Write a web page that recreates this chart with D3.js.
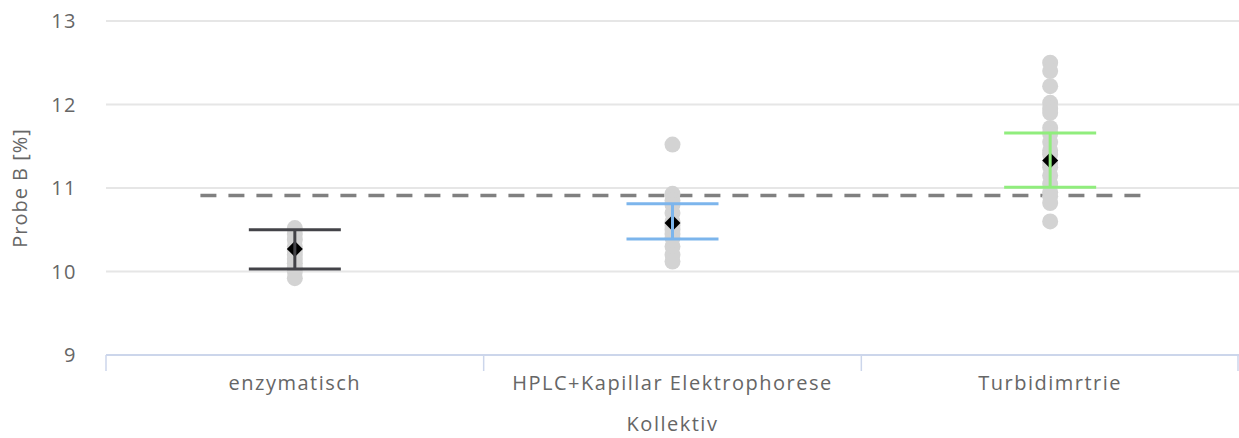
<!DOCTYPE html>
<html>
<head>
<meta charset="utf-8">
<script src="https://cdn.jsdelivr.net/npm/d3@7"></script>
<style>
  body { margin: 0; background: #fff; }
  text { font-family: "Open Sans", sans-serif; fill: #666; font-size: 20px; letter-spacing: 1.5px; }
</style>
</head>
<body>
<svg width="1239" height="438"></svg>
<script>
// categories and values
var categories = ["enzymatisch", "HPLC+Kapillar Elektrophorese", "Turbidimrtrie"];
var colors = ["#434348", "#7cb5ec", "#90ed7d"];

var pointsEnz = [10.52, 10.45, 10.38, 10.3, 10.25, 10.2, 10.15, 10.1, 10.05, 10.0, 9.92];
var pointsHplc = [11.52, 10.93, 10.85, 10.8, 10.7, 10.6, 10.55, 10.5, 10.45, 10.4, 10.3, 10.2, 10.12];
var pointsTurb = [12.5, 12.4, 12.22, 12.02, 11.95, 11.9, 11.72, 11.65, 11.55, 11.45, 11.4, 11.3,
                  11.25, 11.15, 11.05, 10.95, 10.9, 10.82, 10.6];

var means = [10.27, 10.58, 11.33];
var lowErr = [10.03, 10.39, 11.01];
var highErr = [10.5, 10.81, 11.66];
var refValue = 10.91;
var yTicks = [9, 10, 11, 12, 13];

var svg = d3.select("svg");
var plotLeft = 106, plotRight = 1239, plotTop = 21, plotBottom = 355;

var x = d3.scaleBand().domain(categories).range([plotLeft, plotRight]);
var y = d3.scaleLinear().domain([9, 13]).range([plotBottom, plotTop]);
var bw = x.bandwidth();
var cx = function(c) { return x(c) + bw / 2; };

// grid
svg.selectAll("line.grid")
    .data(yTicks.slice(1))
    .enter().append("line")
    .attr("x1", plotLeft).attr("x2", plotRight)
    .attr("y1", function(d) { return y(d); })
    .attr("y2", function(d) { return y(d); })
    .attr("stroke", "#e6e6e6").attr("stroke-width", 2);

// y labels
svg.selectAll("text.ylab")
    .data(yTicks)
    .enter().append("text")
    .attr("x", 77)
    .attr("y", function(d) { return y(d); })
    .attr("dy", "0.35em")
    .attr("text-anchor", "end")
    .text(function(d) { return d; });

svg.append("text")
    .attr("transform", "translate(27," + ((plotTop + plotBottom) / 2) + ") rotate(-90)")
    .attr("text-anchor", "middle")
    .style("letter-spacing", "1px")
    .text("Probe B [%]");

// x axis
svg.append("line")
    .attr("x1", plotLeft).attr("x2", plotRight)
    .attr("y1", plotBottom).attr("y2", plotBottom)
    .attr("stroke", "#ccd6eb").attr("stroke-width", 2);

var bounds = categories.map(function(c) { return x(c); }).concat([plotRight - 1]);
svg.selectAll("line.tick")
    .data(bounds)
    .enter().append("line")
    .attr("x1", function(d) { return d; }).attr("x2", function(d) { return d; })
    .attr("y1", plotBottom).attr("y2", plotBottom + 16)
    .attr("stroke", "#ccd6eb").attr("stroke-width", 1.5);

svg.selectAll("text.xlab")
    .data(categories)
    .enter().append("text")
    .attr("x", cx)
    .attr("y", 390)
    .attr("text-anchor", "middle")
    .text(function(d) { return d; });

svg.append("text")
    .attr("x", (plotLeft + plotRight) / 2)
    .attr("y", 431)
    .attr("text-anchor", "middle")
    .text("Kollektiv");

// reference line
svg.append("line")
    .attr("x1", cx(categories[0]) - bw / 4)
    .attr("x2", cx(categories[2]) + bw / 4)
    .attr("y1", y(refValue)).attr("y2", y(refValue))
    .attr("stroke", "#808080").attr("stroke-width", 3.5)
    .attr("stroke-dasharray", "16,12");

// points
var allPoints = [pointsEnz, pointsHplc, pointsTurb];
allPoints.forEach(function(pts, i) {
    svg.append("g").selectAll("circle")
        .data(pts)
        .enter().append("circle")
        .attr("cx", cx(categories[i]))
        .attr("cy", function(d) { return y(d); })
        .attr("r", 8)
        .attr("fill", "#d3d3d3");
});

// means
svg.selectAll("path.mean")
    .data(means)
    .enter().append("path")
    .attr("d", function(d, i) {
        var px = cx(categories[i]), py = y(d), r = 8;
        return "M" + px + "," + (py - r) + "L" + (px + r) + "," + py +
               "L" + px + "," + (py + r) + "L" + (px - r) + "," + py + "Z";
    })
    .attr("fill", "#000");

// error bars
categories.forEach(function(c, i) {
    var g = svg.append("g").attr("stroke", colors[i]).attr("stroke-width", 3);
    var px = cx(c), w = 46;
    g.append("line").attr("x1", px).attr("x2", px)
        .attr("y1", y(lowErr[i])).attr("y2", y(highErr[i]));
    g.append("line").attr("x1", px - w).attr("x2", px + w)
        .attr("y1", y(lowErr[i])).attr("y2", y(lowErr[i]));
    g.append("line").attr("x1", px - w).attr("x2", px + w)
        .attr("y1", y(highErr[i])).attr("y2", y(highErr[i]));
});
</script>
</body>
</html>
